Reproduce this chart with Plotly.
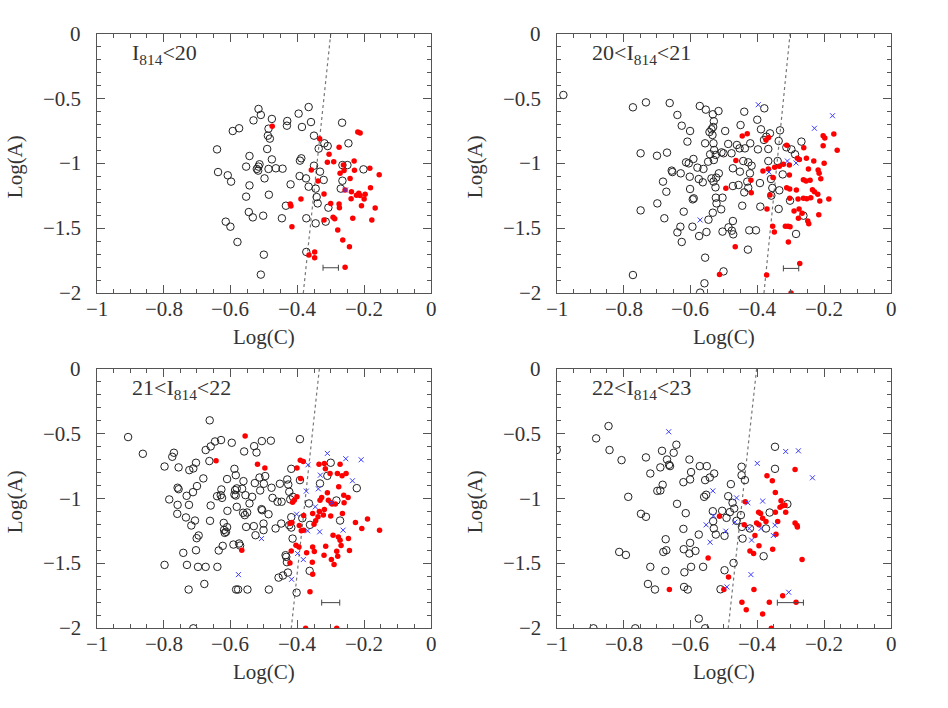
import plotly.graph_objects as go

# ---------------- data (Log(C), Log(A)) ----------------
panel_labels = ["I<sub>814</sub><20", "20<I<sub>814</sub><21",
                "21<I<sub>814</sub><22", "22<I<sub>814</sub><23"]

p1_open = [(-0.516,-0.579),(-0.509,-0.625),(-0.531,-0.667),(-0.476,-0.656),(-0.366,-0.564),(-0.396,-0.615),
           (-0.430,-0.672),(-0.431,-0.708),(-0.386,-0.718),(-0.359,-0.680),(-0.266,-0.685),(-0.574,-0.728),
           (-0.593,-0.749),(-0.486,-0.731),(-0.488,-0.785),(-0.482,-0.808),(-0.350,-0.785),(-0.319,-0.844),
           (-0.309,-0.865),(-0.336,-0.885),(-0.247,-0.844),(-0.640,-0.891),(-0.490,-0.888),(-0.543,-0.942),
           (-0.476,-0.968),(-0.388,-0.960),(-0.392,-0.978),(-0.553,-1.024),(-0.513,-1.006),(-0.516,-1.024),
           (-0.521,-1.042),(-0.517,-1.055),(-0.486,-1.042),(-0.464,-1.037),(-0.444,-1.040),(-0.350,-1.017),
           (-0.332,-1.063),(-0.265,-1.012),(-0.250,-1.012),(-0.202,-1.045),(-0.637,-1.066),(-0.608,-1.091),
           (-0.598,-1.140),(-0.498,-1.115),(-0.393,-1.097),(-0.374,-1.115),(-0.321,-1.127),(-0.265,-1.133),
           (-0.543,-1.169),(-0.420,-1.161),(-0.366,-1.179),(-0.345,-1.194),(-0.270,-1.194),(-0.553,-1.256),
           (-0.485,-1.241),(-0.342,-1.259),(-0.339,-1.308),(-0.434,-1.326),(-0.307,-1.341),(-0.545,-1.375),
           (-0.533,-1.416),(-0.502,-1.403),(-0.446,-1.423),(-0.373,-1.423),(-0.315,-1.449),(-0.345,-1.462),
           (-0.614,-1.449),(-0.600,-1.488),(-0.579,-1.606),(-0.500,-1.704),(-0.373,-1.683),(-0.509,-1.858)]
p1_red = [(-0.475,-0.713),(-0.219,-0.757),(-0.212,-0.764),(-0.333,-0.808),(-0.275,-0.875),(-0.305,-0.929),
          (-0.310,-0.991),(-0.291,-0.986),(-0.262,-1.012),(-0.230,-0.981),(-0.358,-1.050),(-0.272,-1.076),
          (-0.260,-1.055),(-0.229,-1.053),(-0.183,-1.037),(-0.155,-1.086),(-0.338,-1.135),(-0.242,-1.115),
          (-0.257,-1.205),(-0.238,-1.218),(-0.216,-1.230),(-0.223,-1.246),(-0.212,-1.248),(-0.197,-1.238),
          (-0.200,-1.274),(-0.181,-1.187),(-0.320,-1.236),(-0.239,-1.272),(-0.389,-1.274),(-0.421,-1.313),
          (-0.419,-1.328),(-0.300,-1.308),(-0.275,-1.313),(-0.274,-1.341),(-0.208,-1.326),(-0.167,-1.344),
          (-0.320,-1.436),(-0.293,-1.416),(-0.288,-1.426),(-0.234,-1.423),(-0.177,-1.436),(-0.416,-1.488),
          (-0.279,-1.513),(-0.264,-1.591),(-0.244,-1.642),(-0.365,-1.707),(-0.348,-1.683),(-0.348,-1.727),
          (-0.257,-1.802)]
p1_cross = [(-0.256,-1.205)]

p2_open = [(-0.980,-0.471),(-0.772,-0.566),(-0.733,-0.528),(-0.662,-0.533),(-0.572,-0.556),(-0.554,-0.584),
           (-0.516,-0.595),(-0.533,-0.620),(-0.439,-0.600),(-0.379,-0.574),(-0.639,-0.625),(-0.530,-0.674),
           (-0.400,-0.662),(-0.626,-0.708),(-0.532,-0.718),(-0.450,-0.703),(-0.537,-0.736),(-0.496,-0.749),
           (-0.601,-0.749),(-0.543,-0.757),(-0.389,-0.736),(-0.332,-0.744),(-0.362,-0.767),(-0.534,-0.780),
           (-0.373,-0.793),(-0.609,-0.831),(-0.556,-0.844),(-0.531,-0.844),(-0.487,-0.849),(-0.461,-0.857),
           (-0.421,-0.844),(-0.380,-0.818),(-0.336,-0.826),(-0.268,-0.831),(-0.529,-0.896),(-0.507,-0.914),
           (-0.453,-0.883),(-0.437,-0.883),(-0.398,-0.891),(-0.367,-0.888),(-0.313,-0.875),(-0.298,-0.891),
           (-0.749,-0.921),(-0.700,-0.940),(-0.670,-0.916),(-0.541,-0.929),(-0.524,-0.934),(-0.501,-0.921),
           (-0.477,-0.921),(-0.591,-0.965),(-0.613,-0.991),(-0.605,-0.999),(-0.547,-0.986),(-0.530,-0.973),
           (-0.442,-0.981),(-0.427,-0.991),(-0.367,-0.981),(-0.339,-0.981),(-0.287,-0.929),(-0.656,-1.055),
           (-0.654,-1.066),(-0.629,-1.076),(-0.579,-1.032),(-0.561,-1.042),(-0.602,-1.102),(-0.575,-1.120),
           (-0.563,-1.145),(-0.537,-1.115),(-0.531,-1.140),(-0.515,-1.076),(-0.523,-1.109),(-0.473,-1.037),
           (-0.452,-1.063),(-0.422,-1.076),(-0.417,-1.017),(-0.430,-1.140),(-0.392,-1.151),(-0.359,-1.120),
           (-0.324,-1.084),(-0.682,-1.140),(-0.672,-1.218),(-0.601,-1.197),(-0.525,-1.184),(-0.473,-1.174),
           (-0.456,-1.166),(-0.427,-1.187),(-0.355,-1.189),(-0.334,-1.207),(-0.439,-1.223),(-0.590,-1.269),
           (-0.593,-1.277),(-0.524,-1.264),(-0.504,-1.264),(-0.699,-1.308),(-0.522,-1.308),(-0.445,-1.326),
           (-0.358,-1.248),(-0.302,-1.287),(-0.749,-1.362),(-0.620,-1.372),(-0.533,-1.380),(-0.508,-1.354),
           (-0.391,-1.333),(-0.336,-1.351),(-0.678,-1.423),(-0.546,-1.434),(-0.473,-1.444),(-0.262,-1.403),
           (-0.630,-1.488),(-0.594,-1.488),(-0.639,-1.532),(-0.626,-1.606),(-0.552,-1.529),(-0.574,-1.560),
           (-0.504,-1.526),(-0.486,-1.493),(-0.476,-1.519),(-0.472,-1.547),(-0.424,-1.516),(-0.404,-1.516),
           (-0.284,-1.544),(-0.428,-1.665),(-0.556,-1.727),(-0.772,-1.861),(-0.501,-1.833),(-0.558,-1.925),
           (-0.571,-1.997)]
p2_red = [(-0.445,-0.788),(-0.430,-0.770),(-0.374,-0.818),(-0.366,-0.800),(-0.312,-0.860),(-0.261,-0.878),
          (-0.203,-0.785),(-0.198,-0.803),(-0.171,-0.772),(-0.203,-0.862),(-0.161,-0.898),(-0.464,-0.976),
          (-0.383,-1.058),(-0.367,-1.042),(-0.348,-1.029),(-0.334,-1.022),(-0.322,-1.006),(-0.304,-1.012),
          (-0.280,-0.960),(-0.274,-0.970),(-0.253,-0.960),(-0.231,-0.981),(-0.200,-0.999),(-0.247,-1.042),
          (-0.218,-1.050),(-0.215,-1.076),(-0.210,-1.117),(-0.304,-1.089),(-0.353,-1.109),(-0.419,-1.130),
          (-0.262,-1.125),(-0.254,-1.135),(-0.242,-1.130),(-0.494,-1.192),(-0.418,-1.225),(-0.362,-1.243),
          (-0.312,-1.187),(-0.303,-1.197),(-0.283,-1.205),(-0.235,-1.202),(-0.229,-1.218),(-0.219,-1.238),
          (-0.303,-1.269),(-0.278,-1.274),(-0.262,-1.269),(-0.252,-1.272),(-0.240,-1.264),(-0.186,-1.274),
          (-0.213,-1.290),(-0.371,-1.351),(-0.290,-1.367),(-0.275,-1.351),(-0.266,-1.385),(-0.277,-1.423),
          (-0.249,-1.444),(-0.246,-1.465),(-0.216,-1.395),(-0.354,-1.485),(-0.349,-1.529),(-0.316,-1.485),
          (-0.308,-1.485),(-0.302,-1.488),(-0.307,-1.606),(-0.466,-1.642),(-0.273,-1.773),(-0.513,-1.858),
          (-0.372,-1.861),(-0.299,-2.000)]
p2_cross = [(-0.397,-0.546),(-0.175,-0.631),(-0.229,-0.728),(-0.310,-0.981),(-0.284,-0.996),(-0.365,-1.066),
            (-0.571,-1.436)]

p3_open = [(-0.906,-0.525),(-0.862,-0.654),(-0.662,-0.396),(-0.797,-0.752),(-0.769,-0.646),(-0.774,-0.677),
           (-0.755,-0.759),(-0.723,-0.780),(-0.711,-0.767),(-0.703,-0.723),(-0.674,-0.625),(-0.659,-0.597),
           (-0.646,-0.559),(-0.628,-0.548),(-0.596,-0.569),(-0.663,-0.710),(-0.559,-0.636),(-0.529,-0.595),
           (-0.506,-0.556),(-0.479,-0.553),(-0.522,-0.644),(-0.392,-0.541),(-0.681,-0.844),(-0.700,-0.903),
           (-0.712,-0.950),(-0.731,-0.978),(-0.758,-0.916),(-0.755,-0.927),(-0.783,-1.006),(-0.758,-1.048),
           (-0.724,-1.048),(-0.759,-1.117),(-0.733,-1.145),(-0.717,-1.207),(-0.706,-1.169),(-0.695,-1.284),
           (-0.701,-1.305),(-0.741,-1.418),(-0.797,-1.511),(-0.730,-1.511),(-0.703,-1.398),(-0.697,-1.526),
           (-0.674,-1.526),(-0.639,-1.526),(-0.678,-1.658),(-0.725,-1.701),(-0.583,-1.701),(-0.577,-1.701),
           (-0.549,-1.701),(-0.711,-2.000),(-0.661,-1.171),(-0.659,-1.053),(-0.640,-0.981),(-0.627,-0.929),
           (-0.629,-0.973),(-0.625,-0.994),(-0.610,-0.849),(-0.588,-0.770),(-0.584,-0.819),(-0.561,-0.865),
           (-0.586,-0.934),(-0.581,-0.921),(-0.588,-0.968),(-0.584,-0.976),(-0.565,-0.924),(-0.555,-0.973),
           (-0.609,-1.094),(-0.581,-1.063),(-0.562,-1.109),(-0.557,-1.127),(-0.550,-1.107),(-0.543,-1.037),
           (-0.535,-0.986),(-0.527,-0.880),(-0.513,-0.837),(-0.511,-0.937),(-0.500,-0.885),(-0.496,-0.826),
           (-0.477,-0.916),(-0.474,-0.994),(-0.507,-1.081),(-0.505,-1.089),(-0.486,-1.120),(-0.530,-1.212),
           (-0.525,-1.282),(-0.501,-1.192),(-0.501,-1.243),(-0.620,-1.187),(-0.619,-1.241),(-0.610,-1.220),
           (-0.613,-1.256),(-0.617,-1.264),(-0.623,-1.364),(-0.635,-1.400),(-0.591,-1.354),(-0.574,-1.346),
           (-0.571,-1.362),(-0.553,-1.218),(-0.465,-1.230),(-0.448,-1.192),(-0.424,-1.205),(-0.447,-1.024),
           (-0.459,-1.024),(-0.452,-0.885),(-0.430,-0.852),(-0.427,-0.891),(-0.418,-0.770),(-0.424,-0.947),
           (-0.421,-1.006),(-0.413,-0.986),(-0.392,-0.857),(-0.418,-1.143),(-0.418,-1.223),(-0.414,-1.308),
           (-0.435,-1.436),(-0.433,-1.449),(-0.431,-1.490),(-0.428,-1.570),(-0.443,-1.593),(-0.456,-1.609),
           (-0.485,-1.701),(-0.402,-1.725),(-0.363,-1.557),(-0.385,-1.151),(-0.365,-1.037),(-0.362,-1.202),
           (-0.332,-0.883),(-0.310,-0.824),(-0.300,-0.723),(-0.283,-1.014),(-0.272,-1.169),(-0.222,-0.919)]
p3_red = [(-0.556,-0.517),(-0.643,-0.708),(-0.519,-0.734),(-0.497,-0.764),(-0.566,-1.398),(-0.401,-0.764),
          (-0.391,-0.703),(-0.382,-0.713),(-0.390,-0.844),(-0.401,-0.986),(-0.409,-1.012),(-0.414,-1.027),
          (-0.422,-1.192),(-0.416,-1.184),(-0.381,-1.130),(-0.394,-1.207),(-0.388,-1.248),(-0.381,-1.243),
          (-0.404,-1.359),(-0.418,-1.403),(-0.422,-1.496),(-0.395,-1.372),(-0.372,-1.418),(-0.362,-1.719),
          (-0.354,-1.583),(-0.355,-1.490),(-0.354,-1.372),(-0.349,-1.408),(-0.375,-2.000),(-0.282,-2.000),
          (-0.354,-1.115),(-0.345,-1.171),(-0.338,-1.140),(-0.350,-1.197),(-0.334,-1.099),(-0.322,-1.127),
          (-0.319,-1.084),(-0.332,-1.012),(-0.327,-0.991),(-0.335,-0.734),(-0.319,-0.728),(-0.316,-0.770),
          (-0.302,-0.806),(-0.310,-0.955),(-0.307,-1.012),(-0.299,-1.032),(-0.296,-1.042),(-0.286,-1.042),
          (-0.300,-1.133),(-0.280,-0.806),(-0.272,-0.734),(-0.266,-0.824),(-0.254,-0.806),(-0.276,-0.909),
          (-0.261,-0.973),(-0.248,-0.991),(-0.260,-1.032),(-0.265,-1.115),(-0.293,-1.282),(-0.277,-1.295),
          (-0.272,-1.320),(-0.247,-1.308),(-0.226,-1.184),(-0.207,-1.230),(-0.190,-1.156),(-0.154,-1.243),
          (-0.315,-1.367),(-0.320,-1.436),(-0.298,-1.469),(-0.290,-1.508),(-0.282,-1.405),(-0.279,-1.444),
          (-0.269,-1.362),(-0.244,-1.400)]
p3_cross = [(-0.310,-0.651),(-0.255,-0.692),(-0.209,-0.700),(-0.368,-0.739),(-0.331,-0.819),(-0.235,-0.862),
            (-0.337,-0.924),(-0.373,-0.942),(-0.346,-1.063),(-0.297,-1.032),(-0.402,-1.120),(-0.369,-1.248),
            (-0.333,-1.256),(-0.263,-1.243),(-0.507,-1.308),(-0.399,-1.423),(-0.382,-1.470),(-0.417,-1.622),
            (-0.576,-1.586)]

p4_open = [(-1.000,-0.625),(-0.882,-0.535),(-0.845,-0.440),(-0.842,-0.625),(-0.806,-0.703),(-0.786,-0.986),
           (-0.733,-0.682),(-0.720,-0.806),(-0.748,-1.117),(-0.733,-1.140),(-0.813,-1.411),(-0.793,-1.434),
           (-0.720,-1.526),(-0.727,-1.658),(-0.706,-1.701),(-0.890,-2.000),(-0.765,-2.000),(-0.685,-0.631),
           (-0.690,-0.759),(-0.670,-0.698),(-0.664,-0.739),(-0.661,-0.749),(-0.650,-0.646),(-0.642,-0.584),
           (-0.683,-0.893),(-0.699,-0.940),(-0.690,-0.937),(-0.640,-1.040),(-0.674,-1.313),(-0.681,-1.411),
           (-0.672,-1.398),(-0.675,-1.557),(-0.603,-0.698),(-0.598,-0.795),(-0.601,-0.852),(-0.621,-0.873),
           (-0.614,-1.112),(-0.621,-1.233),(-0.620,-1.390),(-0.601,-1.341),(-0.603,-1.423),(-0.585,-1.403),
           (-0.598,-1.526),(-0.618,-1.568),(-0.619,-1.681),(-0.608,-1.701),(-0.575,-1.925),(-0.556,-2.000),
           (-0.572,-0.749),(-0.551,-0.749),(-0.529,-0.806),(-0.542,-0.837),(-0.556,-0.857),(-0.553,-0.970),
           (-0.559,-0.986),(-0.575,-1.277),(-0.562,-1.526),(-0.533,-1.097),(-0.532,-1.174),(-0.530,-1.230),
           (-0.524,-1.277),(-0.510,-1.699),(-0.498,-1.552),(-0.498,-1.287),(-0.505,-1.094),(-0.492,-1.148),
           (-0.487,-0.981),(-0.479,-0.888),(-0.482,-1.104),(-0.474,-1.032),(-0.469,-1.076),(-0.471,-1.496),
           (-0.447,-0.754),(-0.447,-0.819),(-0.437,-0.857),(-0.449,-1.127),(-0.446,-1.218),(-0.444,-1.308),
           (-0.462,-1.171),(-0.422,-1.230),(-0.374,-1.230),(-0.381,-1.444),(-0.363,-1.107),(-0.347,-0.600),
           (-0.347,-0.770),(-0.310,-1.042)]
p4_red = [(-0.287,-0.775),(-0.371,-0.824),(-0.355,-0.862),(-0.346,-0.952),(-0.329,-1.017),(-0.325,-1.055),
          (-0.317,-1.050),(-0.332,-1.066),(-0.346,-1.104),(-0.315,-1.104),(-0.396,-1.104),(-0.390,-1.115),
          (-0.436,-1.024),(-0.513,-1.135),(-0.384,-1.151),(-0.374,-1.176),(-0.339,-1.176),(-0.402,-1.187),
          (-0.395,-1.202),(-0.439,-1.202),(-0.287,-1.187),(-0.281,-1.207),(-0.280,-1.218),(-0.344,-1.274),
          (-0.407,-1.284),(-0.395,-1.364),(-0.354,-1.390),(-0.422,-1.403),(-0.411,-1.423),(-0.266,-1.470),
          (-0.547,-1.457),(-0.486,-1.604),(-0.500,-1.701),(-0.663,-1.701),(-0.410,-1.701),(-0.324,-1.748),
          (-0.446,-1.799),(-0.433,-1.856),(-0.384,-1.889),(-0.364,-1.799),(-0.284,-1.799),(-0.358,-2.000)]
p4_cross = [(-0.665,-0.484),(-0.315,-0.636),(-0.277,-0.631),(-0.400,-0.728),(-0.235,-0.839),(-0.533,-0.940),
            (-0.462,-0.994),(-0.428,-1.032),(-0.384,-1.019),(-0.531,-1.133),(-0.553,-1.202),(-0.467,-1.181),
            (-0.424,-1.230),(-0.389,-1.230),(-0.347,-1.205),(-0.494,-1.251),(-0.352,-1.284),(-0.541,-1.336),
            (-0.417,-1.320),(-0.419,-1.586),(-0.491,-1.681),(-0.306,-1.722)]

# dividing (dotted) line: Log(C) at Log(A) = -2 and at Log(A) = 0
sep_x_bottom = [-0.382, -0.380, -0.418, -0.487]
sep_x_top = [-0.300, -0.302, -0.334, -0.402]
sep_y = [-2.0, 0.0]

# typical error bar: centre, half-width, Log(A) position
err_x = [-0.300, -0.299, -0.300, -0.301]
err_half = [0.023, 0.023, 0.027, 0.039]
err_y = [-1.805, -1.810, -1.802, -1.802]

x_ticks = [-1, -0.8, -0.6, -0.4, -0.2, 0]
x_ticktext = ["\u22121", "\u22120.8", "\u22120.6", "\u22120.4", "\u22120.2", "0"]
y_ticks = [-2, -1.5, -1, -0.5, 0]
y_ticktext = ["\u22122", "\u22121.5", "\u22121", "\u22120.5", "0"]

# ---------------- figure ----------------
W, H = 948, 708
FONT = "Liberation Serif"
TXT = "#333333"
AX = "#555555"

panels = [(p1_open, p1_red, p1_cross), (p2_open, p2_red, p2_cross),
          (p3_open, p3_red, p3_cross), (p4_open, p4_red, p4_cross)]

boxes = [(96.7, 431, 34, 293), (556.7, 891, 34, 293),
         (96.7, 431, 369, 628.3), (556.7, 891, 369, 628.3)]

fig = go.Figure()
layout = dict(template="none", width=W, height=H, margin=dict(l=0, r=0, t=0, b=0, pad=0),
              paper_bgcolor="white", plot_bgcolor="white", showlegend=False,
              font=dict(family=FONT, color=TXT, size=20))
annotations = []

def px_x(v):
    return v / W

def px_y(v):
    return 1 - v / H

for i, ((op, rd, cr), (l, r, t, b)) in enumerate(zip(panels, boxes)):
    n = i + 1
    xa = "x" if n == 1 else f"x{n}"
    ya = "y" if n == 1 else f"y{n}"
    xkey = "xaxis" if n == 1 else f"xaxis{n}"
    ykey = "yaxis" if n == 1 else f"yaxis{n}"

    fig.add_trace(go.Scatter(x=[sep_x_bottom[i], sep_x_top[i]], y=sep_y, mode="lines",
                             line=dict(color="#777777", width=1.2, dash="dot"),
                             xaxis=xa, yaxis=ya, hoverinfo="skip"))
    fig.add_trace(go.Scatter(x=[p[0] for p in op], y=[p[1] for p in op], mode="markers",
                             marker=dict(symbol="circle-open", size=7.5, color="#222222",
                                         line=dict(width=1, color="#222222")),
                             xaxis=xa, yaxis=ya))
    fig.add_trace(go.Scatter(x=[p[0] for p in rd], y=[p[1] for p in rd], mode="markers",
                             marker=dict(symbol="circle", size=5.5, color="#ff0000",
                                         line=dict(width=0)),
                             xaxis=xa, yaxis=ya))
    fig.add_trace(go.Scatter(x=[p[0] for p in cr], y=[p[1] for p in cr], mode="markers",
                             marker=dict(symbol="x-thin-open", size=5, color="#3a3aff",
                                         line=dict(width=1, color="#3a3aff")),
                             xaxis=xa, yaxis=ya))
    fig.add_trace(go.Scatter(x=[err_x[i]], y=[err_y[i]], mode="markers",
                             marker=dict(size=1, color="rgba(0,0,0,0)"),
                             error_x=dict(type="data", array=[err_half[i]], color="#444444",
                                          thickness=1, width=3),
                             xaxis=xa, yaxis=ya, hoverinfo="skip"))

    common = dict(showgrid=False, zeroline=False, showline=True, linecolor=AX,
                  linewidth=1, ticks="inside", ticklen=8, tickwidth=1, mirror="allticks",
                  tickcolor=AX, showticklabels=False, automargin=False)
    layout[xkey] = dict(common, domain=[px_x(l), px_x(r)], range=[-1, 0], anchor=ya,
                        dtick=0.2, tick0=0,
                        minor=dict(dtick=0.05, tick0=0, ticks="inside", ticklen=4,
                                   tickcolor=AX, showgrid=False))
    layout[ykey] = dict(common, domain=[px_y(b), px_y(t)], range=[-2, 0], anchor=xa,
                        dtick=0.5, tick0=0,
                        minor=dict(dtick=0.1, tick0=0, ticks="inside", ticklen=4,
                                   tickcolor=AX, showgrid=False))

    for v, s in zip(x_ticks, x_ticktext):
        annotations.append(dict(text=s, x=v, xref=xa, y=px_y(b + 16), yref="paper",
                                xanchor="center", yanchor="middle", showarrow=False,
                                font=dict(family=FONT, size=21, color=TXT)))
    for v, s in zip(y_ticks, y_ticktext):
        annotations.append(dict(text=s, x=px_x(l - 14), xref="paper", y=v, yref=ya,
                                xanchor="right", yanchor="middle", showarrow=False,
                                font=dict(family=FONT, size=21, color=TXT)))
    annotations.append(dict(text=panel_labels[i], x=px_x(l + 33), y=px_y(t + 20),
                            xref="paper", yref="paper", xanchor="left", yanchor="middle",
                            showarrow=False, font=dict(family=FONT, size=22, color=TXT)))
    annotations.append(dict(text="Log(C)", x=px_x((l + r) / 2), y=px_y(b + 44),
                            xref="paper", yref="paper", xanchor="center", yanchor="middle",
                            showarrow=False, font=dict(family=FONT, size=21, color=TXT)))
    annotations.append(dict(text="Log(A)", x=px_x(l - 82), y=px_y((t + b) / 2 + 3),
                            xref="paper", yref="paper", xanchor="center", yanchor="middle",
                            textangle=-90, showarrow=False,
                            font=dict(family=FONT, size=21, color=TXT)))

layout["annotations"] = annotations
fig.update_layout(**layout)
fig.write_html("out.html", config={"displayModeBar": False},
               post_script="document.body.style.margin='0';document.body.style.padding='0';")
